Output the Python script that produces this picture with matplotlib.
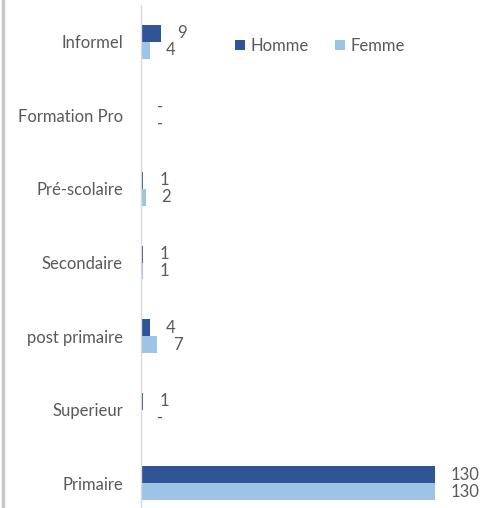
import numpy as np
import matplotlib.pyplot as plt
from matplotlib.lines import Line2D

plt.rcParams["font.family"] = ["Lato", "DejaVu Sans"]

categories = ["Primaire", "Superieur", "post primaire", "Secondaire",
              "Pré-scolaire", "Formation Pro", "Informel"]
homme = [130, 1, 4, 1, 1, 0, 9]
femme = [130, 0, 7, 1, 2, 0, 4]

c_homme = "#2F5597"
c_femme = "#9DC3E6"
grey = "#595959"

W, H = 496, 508
fig = plt.figure(figsize=(W / 100, H / 100), dpi=100)

# axes placed in pixel terms (chart is clipped at the bottom)
x0, x1 = 141, 480
y_top, y_bot = 5, 520
ax = fig.add_axes([x0 / W, (H - y_bot) / H, (x1 - x0) / W, (y_bot - y_top) / H])

y = np.arange(len(categories))
bh = 0.23
ax.barh(y + bh / 2, homme, height=bh, color=c_homme, label="Homme")
ax.barh(y - bh / 2, femme, height=bh, color=c_femme, label="Femme")

ax.set_xlim(0, (x1 - x0) / 2.262)
ax.set_ylim(-0.5, len(categories) - 0.5)
ax.set_yticks(y)
ax.set_yticklabels(categories, fontsize=12, color=grey)
ax.tick_params(axis="y", length=0, pad=13)
ax.set_xticks([])
for s in ["top", "right", "bottom"]:
    ax.spines[s].set_visible(False)
ax.spines["left"].set_color("#D9D9D9")
ax.spines["left"].set_linewidth(1.0)

off = 7
for yi, v in zip(y, homme):
    ax.text(v + off, yi + bh / 2, str(v) if v else "-", va="center", ha="left",
            fontsize=12, color=grey)
for yi, v in zip(y, femme):
    ax.text(v + off, yi - bh / 2, str(v) if v else "-", va="center", ha="left",
            fontsize=12, color=grey)

fig.legend(loc="center", bbox_to_anchor=(320 / W, 1 - 46 / H), ncol=2,
           frameon=False, fontsize=12, labelcolor=grey, handlelength=0.6,
           handleheight=0.6, handletextpad=0.3, columnspacing=1.6)

fig.add_artist(Line2D([3 / W, 3 / W], [0, 1], transform=fig.transFigure,
                      color="#C8C8C8", linewidth=2.5))

fig.savefig("out.png", dpi=100)
